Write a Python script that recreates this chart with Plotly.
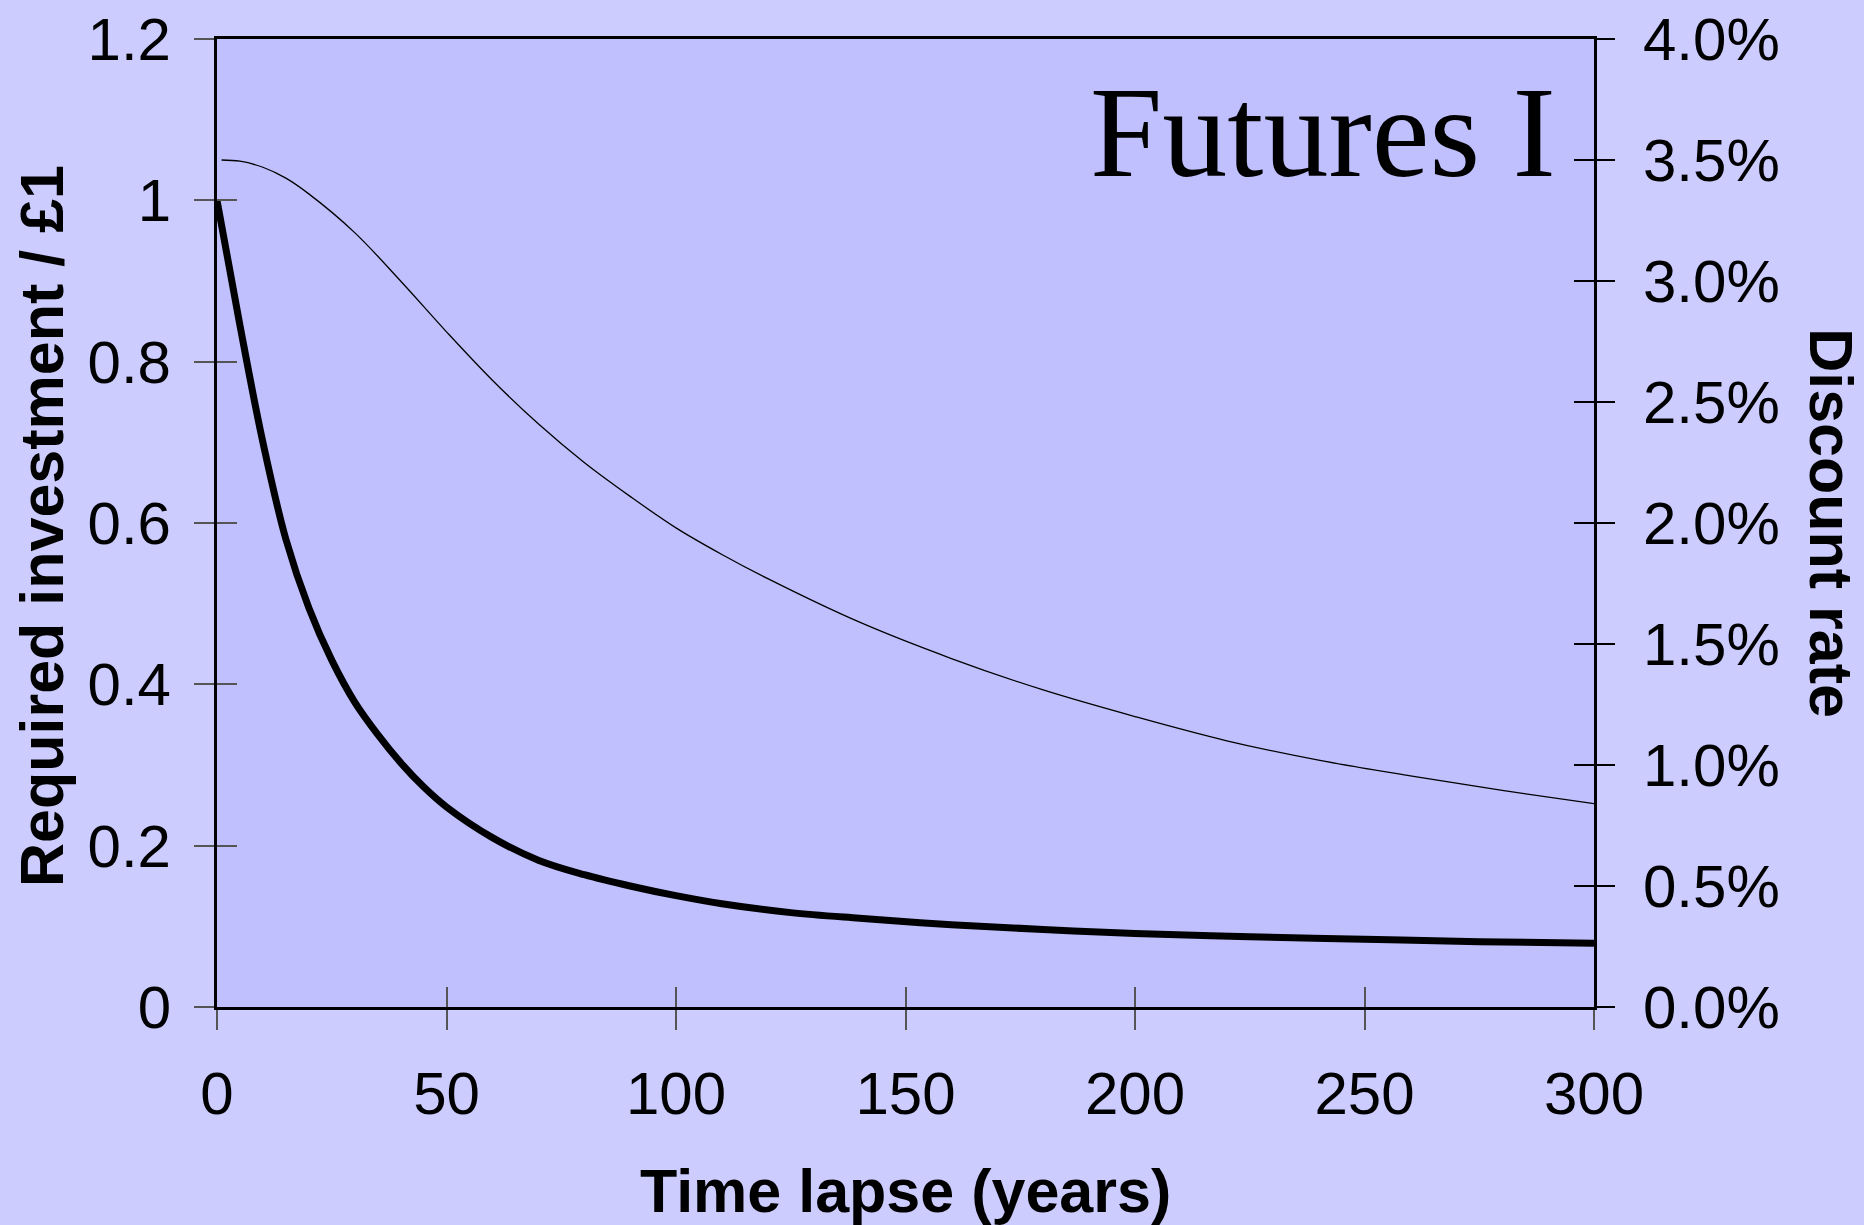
import plotly.graph_objects as go

# Required investment (present value of £1) vs time lapse
years_pv = [0, 5, 10, 15, 20, 25, 30, 35, 40, 45, 50, 60, 70, 80, 90, 100, 110, 125, 140, 160, 180, 200, 225,
            250, 275, 300]
pv = [1.000, 0.845, 0.700, 0.580, 0.495, 0.430, 0.378, 0.338, 0.303, 0.273, 0.248, 0.210, 0.182, 0.164, 0.150,
      0.138, 0.128, 0.117, 0.110, 0.102, 0.096, 0.091, 0.087, 0.084, 0.081, 0.079]

# Discount rate (%) vs time lapse
years_rate = [1, 5, 10, 15, 20, 30, 40, 50, 60, 70, 80, 90, 100, 110, 120, 140, 160, 180, 200, 220, 240, 260,
              280, 300]
rate = [3.50, 3.495, 3.47, 3.425, 3.36, 3.20, 3.00, 2.79, 2.59, 2.41, 2.25, 2.11, 1.98, 1.87, 1.77, 1.59, 1.44,
        1.31, 1.20, 1.10, 1.02, 0.955, 0.895, 0.84]

x_ticks = [0, 50, 100, 150, 200, 250, 300]
y_ticks = [0, 0.2, 0.4, 0.6, 0.8, 1, 1.2]
y2_ticks = [0, 0.5, 1.0, 1.5, 2.0, 2.5, 3.0, 3.5, 4.0]
y2_labels = ["0.0%", "0.5%", "1.0%", "1.5%", "2.0%", "2.5%", "3.0%", "3.5%", "4.0%"]

FONT = "Liberation Sans, Arial, sans-serif"
TICKFONT = dict(family=FONT, size=60, color="black")
TITLEFONT = dict(family=FONT, size=61, color="black")

fig = go.Figure()
fig.add_trace(go.Scatter(x=years_rate, y=rate, mode="lines", line=dict(color="black", width=1.3, shape="spline"),
                         xaxis="x", yaxis="y2", showlegend=False))
fig.add_trace(go.Scatter(x=years_pv, y=pv, mode="lines", line=dict(color="black", width=7, shape="spline"),
                         xaxis="x", yaxis="y", showlegend=False))
# empty traces to materialise the inner-tick overlay axes
fig.add_trace(go.Scatter(x=[], y=[], xaxis="x2", yaxis="y3", showlegend=False))
fig.add_trace(go.Scatter(x=[], y=[], xaxis="x2", yaxis="y4", showlegend=False))

fig.update_layout(
    width=1864, height=1225,
    margin=dict(l=217, r=270, t=39, b=218, autoexpand=False),
    paper_bgcolor="#CCCCFF", plot_bgcolor="#C0C0FF",
    xaxis=dict(range=[0, 300], tickvals=x_ticks, ticks="outside", ticklen=20, tickwidth=1.5, tickcolor="#555555",
               showline=True, mirror=True, linecolor="black", linewidth=3, showgrid=False, zeroline=False,
               tickfont=TICKFONT, ticklabelstandoff=12),
    xaxis2=dict(range=[0, 300], overlaying="x", anchor="y", tickvals=x_ticks, ticks="inside", ticklen=20,
                tickwidth=1.5, tickcolor="#555555", showticklabels=False, showline=False, showgrid=False,
                zeroline=False),
    yaxis=dict(range=[0, 1.2], tickvals=y_ticks, ticks="outside", ticklen=20, tickwidth=1.5, tickcolor="#555555",
               showline=True, mirror=True, linecolor="black", linewidth=3, showgrid=False, zeroline=False,
               tickfont=TICKFONT, ticklabelstandoff=11),
    yaxis3=dict(range=[0, 1.2], overlaying="y", anchor="x", side="left", tickvals=y_ticks, ticks="inside",
                ticklen=20, tickwidth=1.5, tickcolor="#555555", showticklabels=False, showline=False,
                showgrid=False, zeroline=False),
    yaxis2=dict(range=[0, 4], overlaying="y", anchor="x", side="right", tickvals=y2_ticks, ticktext=y2_labels,
                ticks="outside", ticklen=20, tickwidth=1.5, tickcolor="black", showline=False,
                showgrid=False, zeroline=False, tickfont=TICKFONT, ticklabelstandoff=16),
    yaxis4=dict(range=[0, 4], overlaying="y", anchor="x", side="right", tickvals=y2_ticks, ticks="inside",
                ticklen=20, tickwidth=1.5, tickcolor="black", showticklabels=False, showline=False,
                showgrid=False, zeroline=False),
    annotations=[
        dict(text="Futures I", xref="paper", yref="paper", x=1, y=1, xanchor="right", yanchor="top",
             xshift=-36, yshift=-19, showarrow=False,
             font=dict(family="Liberation Serif, Times New Roman, serif", size=130, color="black")),
        dict(text="<b>Time lapse (years)</b>", xref="paper", yref="paper", x=0.5, y=-0.190, xanchor="center",
             yanchor="middle", showarrow=False, font=TITLEFONT),
        dict(text="<b>Required investment / £1</b>", xref="paper", yref="paper", x=-0.127, y=0.497,
             xanchor="center", yanchor="middle", textangle=-90, showarrow=False, font=TITLEFONT),
        dict(text="<b>Discount rate</b>", xref="paper", yref="paper", x=1.172, y=0.5,
             xanchor="center", yanchor="middle", textangle=90, showarrow=False, font=TITLEFONT),
    ],
)

fig.write_html("out.html")
